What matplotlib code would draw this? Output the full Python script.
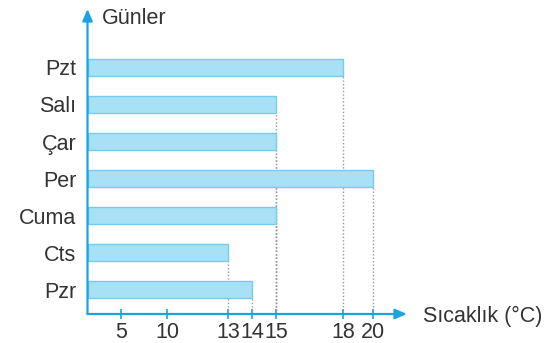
import numpy as np
import matplotlib
matplotlib.use("Agg")
import matplotlib.pyplot as plt
from matplotlib.scale import FuncScale

# veri
gunler = ["Pzt", "Salı", "Çar", "Per", "Cuma", "Cts", "Pzr"]
sicaklik = [18, 15, 15, 20, 15, 13, 14]
xticks = [5, 10, 13, 14, 15, 18, 20]

# kitaptaki çizim eşit aralıklı değil, eksen konumlarını taklit et
knot_val = np.array([0, 5, 10, 13, 14, 15, 18, 20, 22.3])
knot_pos = np.array([0, 33.5, 79.5, 140.5, 164.5, 188.5, 255.5, 285.5, 319.5])

def fwd(v):
    return np.interp(v, knot_val, knot_pos)

def inv(p):
    return np.interp(p, knot_pos, knot_val)

plt.rcParams['font.family'] = ['Liberation Sans', 'DejaVu Sans']

W, H = 556, 343
fig = plt.figure(figsize=(W / 100, H / 100), dpi=100)
# eksen: x 87.5..407 px, y 9..314 px
ax = fig.add_axes([87.5 / W, 1 - 314 / H, (407 - 87.5) / W, (314 - 9) / H])

blue = "#1aa3e0"
fill = "#a8e1f6"
edge = "#78cbee"
txt = "#333333"
fs = 15.5

n = len(gunler)
ypos = np.arange(n)[::-1]  # Pzt en üstte

ax.set_xscale(FuncScale(ax, (fwd, inv)))
ax.set_xlim(0, 22.3)
ax.set_ylim(-0.66, 7.58)

ax.barh(ypos, sicaklik, height=0.46, color=fill, edgecolor=edge,
        linewidth=1.0, zorder=3)

# bar sonundan eksene noktalı çizgiler
for y, v in zip(ypos, sicaklik):
    ax.plot([v, v], [-0.66, y - 0.23], ls=(0, (1, 1.5)), color="#999999",
            lw=1.0, zorder=2)

for s in ax.spines.values():
    s.set_visible(False)

# oklu eksenler
ax.annotate("", xy=(1, 0), xytext=(0, 0), xycoords="axes fraction",
            arrowprops=dict(arrowstyle="-|>,head_length=0.7,head_width=0.3",
                            color=blue, lw=1.6, shrinkA=0, shrinkB=0))
ax.annotate("", xy=(0, 1), xytext=(0, 0), xycoords="axes fraction",
            arrowprops=dict(arrowstyle="-|>,head_length=0.7,head_width=0.3",
                            color=blue, lw=1.6, shrinkA=0, shrinkB=0))

ax.set_xticks(xticks)
ax.set_xticklabels([str(t) for t in xticks], fontsize=fs, color=txt)
ax.tick_params(axis="x", direction="inout", length=7, width=1.2, color=blue,
               pad=2)
ax.set_yticks(ypos)
ax.set_yticklabels(gunler, fontsize=fs, color=txt)
ax.tick_params(axis="y", length=0, pad=8)

fig.text(102 / W, 1 - 19 / H, "Günler", fontsize=fs, color=txt,
         ha="left", va="center")
fig.text(423 / W, 1 - 316 / H, "Sıcaklık (°C)", fontsize=fs,
         color=txt, ha="left", va="center")

fig.savefig("out.png", dpi=100)
